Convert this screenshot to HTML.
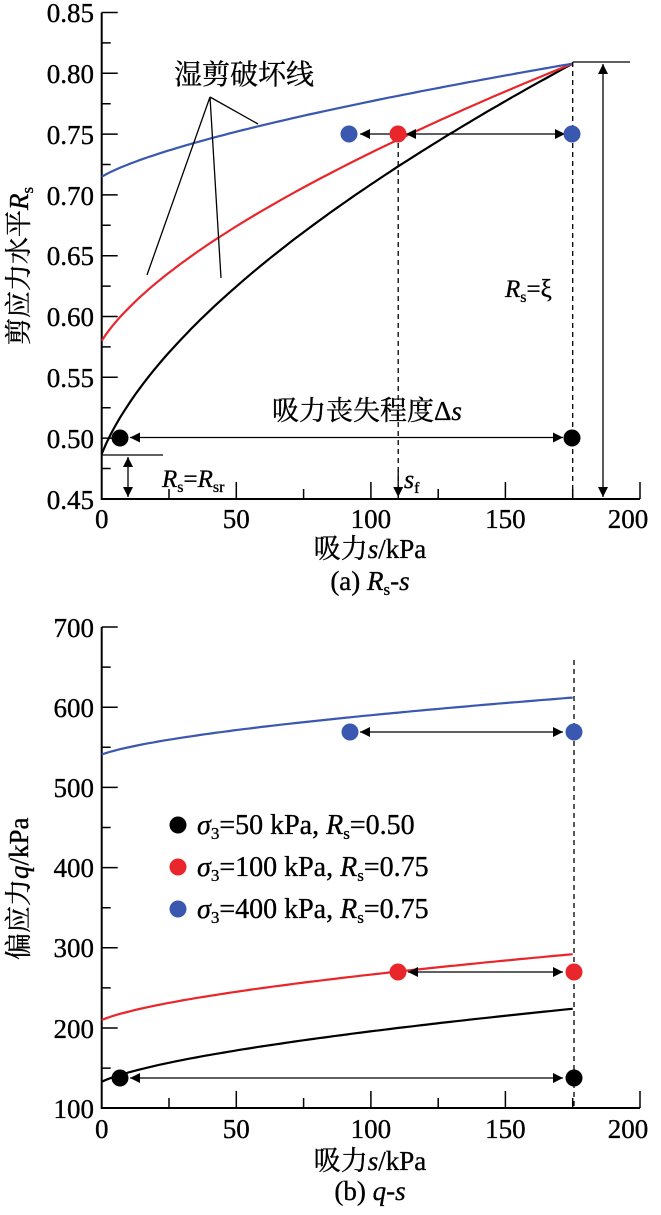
<!DOCTYPE html>
<html><head><meta charset="utf-8"><style>
html,body{margin:0;padding:0;background:#fff}
svg{display:block}
text{font-family:"Liberation Serif","Noto Serif CJK SC",serif;fill:#000;stroke:#000;stroke-width:0.35}
</style></head><body>
<svg width="661" height="1215" viewBox="0 0 661 1215" xmlns="http://www.w3.org/2000/svg">
<defs>
<marker id="ah" viewBox="0 0 10 10" refX="10" refY="5" markerWidth="14" markerHeight="10" markerUnits="userSpaceOnUse" orient="auto-start-reverse"><path d="M0,0 L10,5 L0,10 z" fill="#000" stroke="none"/></marker>
</defs>
<g stroke="#000" fill="none">
<path d="M101.7,12.5 V499 H640" stroke-width="2"/>
<g stroke-width="1.5">
<path d="M101.7,12.5h16 M101.7,73.3h16 M101.7,134.1h16 M101.7,194.9h16 M101.7,255.7h16 M101.7,316.5h16 M101.7,377.3h16 M101.7,438.1h16"/>
<path d="M101.7,42.9h9 M101.7,103.7h9 M101.7,164.5h9 M101.7,225.3h9 M101.7,286.1h9 M101.7,346.9h9 M101.7,407.7h9 M101.7,468.5h9"/>
<path d="M236.3,499v-17 M370.9,499v-17 M505.4,499v-17 M640,499v-17"/>
<path d="M169,499v-10 M303.6,499v-10 M438.2,499v-10 M572.7,499v-10"/>
</g>
</g>
<g font-size="27" text-anchor="end">
<text x="94" y="22">0.85</text><text x="94" y="83">0.80</text><text x="94" y="144">0.75</text><text x="94" y="205">0.70</text><text x="94" y="265">0.65</text><text x="94" y="326">0.60</text><text x="94" y="387">0.55</text><text x="94" y="448">0.50</text><text x="94" y="509">0.45</text>
</g>
<g font-size="27" text-anchor="middle">
<text x="101.7" y="528">0</text><text x="236.3" y="528">50</text><text x="370.9" y="528">100</text><text x="505.4" y="528">150</text><text x="628" y="528">200</text>
<text x="370" y="558" font-size="27">吸力<tspan font-style="italic">s</tspan>/kPa</text>
<text x="370" y="590" font-size="27">(a) <tspan font-style="italic">R</tspan><tspan font-size="17" dy="5">s</tspan><tspan dy="-5">-</tspan><tspan font-style="italic">s</tspan></text>
</g>
<text font-size="27" transform="translate(28,345) rotate(-90)">剪应力水平<tspan font-style="italic">R</tspan><tspan font-size="17" dy="5">s</tspan></text>
<g fill="none" stroke-width="2.2" id="curvesTop"></g>
<g stroke="#000" stroke-width="1.3" fill="none">
<path d="M210,97 L147,275 M210,97 L221,278 M210,97 L258,124"/>
<path d="M398.2,134 V499" stroke-dasharray="5,4"/>
<path d="M572.7,62 V499" stroke-dasharray="5,4"/>
<path d="M572.7,62 H630"/>
<path d="M603,64 V497" marker-start="url(#ah)" marker-end="url(#ah)"/>
<path d="M398.2,470 V497" marker-end="url(#ah)"/>
<path d="M101.7,455 H163"/>
<path d="M128,457 V497" marker-start="url(#ah)" marker-end="url(#ah)"/>
<path d="M130,437.5 H563" marker-start="url(#ah)" marker-end="url(#ah)"/>
<path d="M390,134 H360" marker-end="url(#ah)"/>
<path d="M406,134 H565" marker-start="url(#ah)" marker-end="url(#ah)"/>
</g>
<circle cx="120" cy="438" r="8.5" fill="#000"/>
<circle cx="572" cy="438" r="8.5" fill="#000"/>
<circle cx="398" cy="134" r="8.5" fill="#e8262b"/>
<circle cx="349" cy="134" r="8.5" fill="#3a58b0"/>
<circle cx="572" cy="134" r="8.5" fill="#3a58b0"/>
<text x="174" y="84" font-size="28">湿剪破坏线</text>
<text x="272" y="420" font-size="27">吸力丧失程度Δ<tspan font-style="italic">s</tspan></text>
<text x="162" y="487" font-size="25"><tspan font-style="italic">R</tspan><tspan font-size="16" dy="5">s</tspan><tspan dy="-5">=</tspan><tspan font-style="italic">R</tspan><tspan font-size="16" dy="5">sr</tspan></text>
<text x="404" y="488" font-size="26" font-style="italic">s<tspan font-size="16" dy="5" font-style="normal">f</tspan></text>
<text x="505" y="297" font-size="25"><tspan font-style="italic">R</tspan><tspan font-size="16" dy="5">s</tspan><tspan dy="-5">=ξ</tspan></text>

<g stroke="#000" fill="none">
<path d="M101.7,627 V1108 H640" stroke-width="2"/>
<g stroke-width="1.5">
<path d="M101.7,627h16 M101.7,707.2h16 M101.7,787.4h16 M101.7,867.6h16 M101.7,947.8h16 M101.7,1028h16"/>
<path d="M101.7,667.1h9 M101.7,747.3h9 M101.7,827.5h9 M101.7,907.7h9 M101.7,987.9h9 M101.7,1068.1h9"/>
<path d="M236.3,1108v-17 M370.9,1108v-17 M505.4,1108v-17 M640,1108v-17"/>
<path d="M169,1108v-10 M303.6,1108v-10 M438.2,1108v-10 M572.7,1108v-10"/>
</g>
<path d="M574,660 V1108" stroke-width="1.3" stroke-dasharray="5,4"/>
</g>
<g font-size="27" text-anchor="end">
<text x="94" y="637">700</text><text x="94" y="717">600</text><text x="94" y="797">500</text><text x="94" y="877">400</text><text x="94" y="957">300</text><text x="94" y="1038">200</text><text x="94" y="1118">100</text>
</g>
<g font-size="27" text-anchor="middle">
<text x="101.7" y="1138">0</text><text x="236.3" y="1138">50</text><text x="370.9" y="1138">100</text><text x="505.4" y="1138">150</text><text x="628" y="1138">200</text>
<text x="370" y="1170" font-size="27">吸力<tspan font-style="italic">s</tspan>/kPa</text>
<text x="370" y="1200" font-size="27">(b) <tspan font-style="italic">q</tspan>-<tspan font-style="italic">s</tspan></text>
</g>
<text font-size="27" transform="translate(28,960) rotate(-90)">偏应力<tspan font-style="italic">q</tspan>/kPa</text>
<g fill="none" stroke-width="2.2" id="curvesBot"></g>
<g stroke="#000" stroke-width="1.3" fill="none">
<path d="M130,1078 H563" marker-start="url(#ah)" marker-end="url(#ah)"/>
<path d="M408,972 H563" marker-start="url(#ah)" marker-end="url(#ah)"/>
<path d="M360,732 H563" marker-start="url(#ah)" marker-end="url(#ah)"/>
</g>
<circle cx="120" cy="1078" r="8.5" fill="#000"/>
<circle cx="574" cy="1078" r="8.5" fill="#000"/>
<circle cx="398" cy="972" r="8.5" fill="#e8262b"/>
<circle cx="574" cy="972" r="8.5" fill="#e8262b"/>
<circle cx="350" cy="732" r="8.5" fill="#3a58b0"/>
<circle cx="574" cy="732" r="8.5" fill="#3a58b0"/>
<circle cx="178" cy="825" r="8.5" fill="#000"/>
<circle cx="178" cy="867" r="8.5" fill="#e8262b"/>
<circle cx="178" cy="909" r="8.5" fill="#3a58b0"/>
<g font-size="28">
<text x="197" y="834"><tspan font-style="italic">σ</tspan><tspan font-size="17" dy="5">3</tspan><tspan dy="-5">=50 kPa, </tspan><tspan font-style="italic">R</tspan><tspan font-size="17" dy="5">s</tspan><tspan dy="-5">=0.50</tspan></text>
<text x="197" y="876"><tspan font-style="italic">σ</tspan><tspan font-size="17" dy="5">3</tspan><tspan dy="-5">=100 kPa, </tspan><tspan font-style="italic">R</tspan><tspan font-size="17" dy="5">s</tspan><tspan dy="-5">=0.75</tspan></text>
<text x="197" y="918"><tspan font-style="italic">σ</tspan><tspan font-size="17" dy="5">3</tspan><tspan dy="-5">=400 kPa, </tspan><tspan font-style="italic">R</tspan><tspan font-size="17" dy="5">s</tspan><tspan dy="-5">=0.75</tspan></text>
</g>
</svg>
<script>
(function(){
 var ns="http://www.w3.org/2000/svg";
 function X(s){return 101.7+s*2.6915;}
 function mk(g,a,b,p,c,yf,col){
  var den=Math.pow(175+c,p)-Math.pow(c,p);
  var d="";for(var i=0;i<=100;i++){var s=175*i/100;var v=a+b*(Math.pow(s+c,p)-Math.pow(c,p))/den;d+=(i?"L":"M")+X(s).toFixed(1)+","+yf(v).toFixed(1);}
  var e=document.createElementNS(ns,"path");e.setAttribute("d",d);e.setAttribute("stroke",col);g.appendChild(e);}
 var t=document.getElementById("curvesTop");
 var yt=function(v){return 12.5+(0.85-v)*1216;};
 mk(t,0.487,0.321,0.6,4,yt,"#000");
 mk(t,0.58,0.228,0.64,4,yt,"#e8262b");
 mk(t,0.715,0.093,0.68,4,yt,"#3a58b0");
 var b=document.getElementById("curvesBot");
 var yb=function(v){return 627+(700-v)*0.802;};
 mk(b,133,91,0.6,4,yb,"#000");
 mk(b,210,82,0.6,4,yb,"#e8262b");
 mk(b,541,71,0.6,4,yb,"#3a58b0");
})();
</script>
</body></html>
